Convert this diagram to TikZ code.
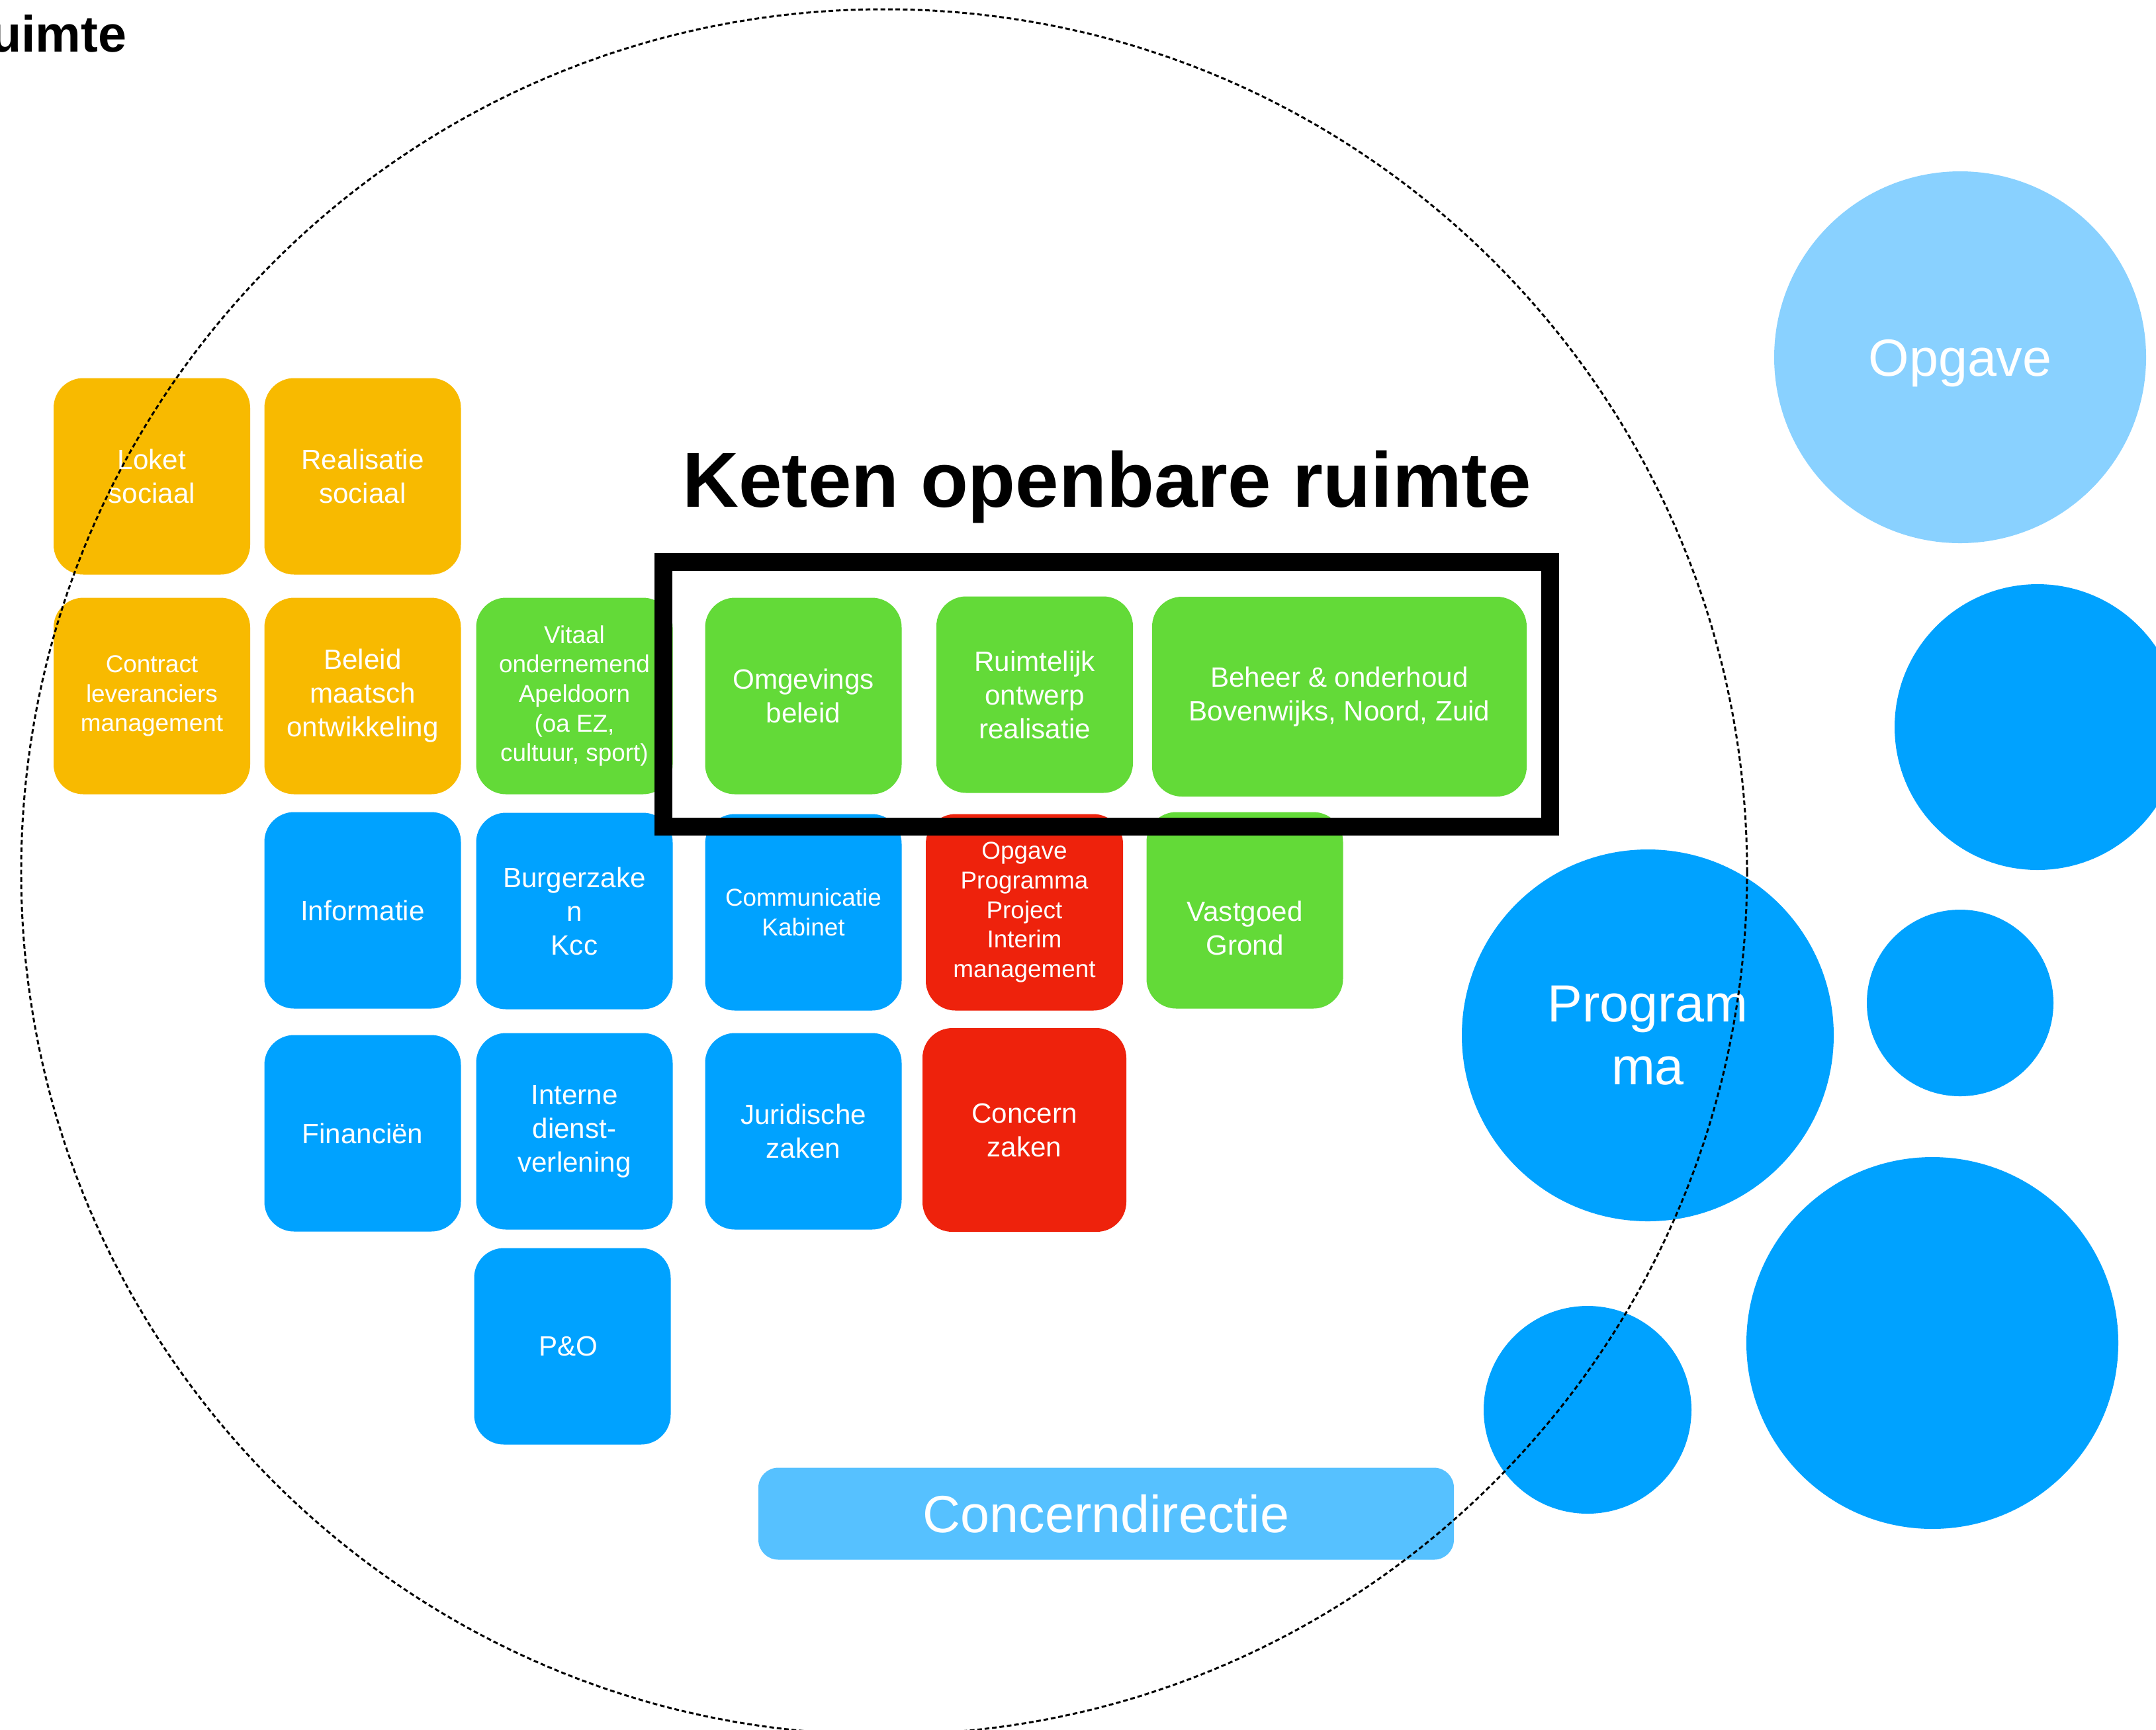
\documentclass[tikz,border=0pt]{standalone}
\usepackage{fontspec}
\setmainfont{Liberation Sans}
\usepackage{tikz}
\usetikzlibrary{positioning}
\definecolor{ApOrange}{RGB}{248,186,0}
\definecolor{ApGreen}{RGB}{99,218,56}
\definecolor{ApBlue}{RGB}{0,162,255}
\definecolor{ApRed}{RGB}{238,34,12}
\definecolor{ApSky}{RGB}{86,193,255}
\definecolor{ApLight}{RGB}{137,209,255}

\begin{document}
\begin{tikzpicture}[
          tile/.style={rectangle, rounded corners=0.45cm, minimum width=2.97cm,
                       minimum height=2.97cm, inner sep=1pt, text=white,
                       align=center, font=\fontsize{12}{14.5}\selectfont},
          fine/.style={font=\fontsize{10.5}{12.7}\selectfont},
          ball/.style={circle, fill=ApBlue, inner sep=0pt, text=white,
                       align=center, font=\fontsize{22.5}{27}\selectfont}
        ]
        \useasboundingbox (0,0) rectangle (32.58,-26.14);

        % Tiles
        \foreach \nm/\x/\y/\col/\lbl in {
          loket/2.295/-7.20/ApOrange/{Loket\\sociaal},
          realsoc/5.48/-7.20/ApOrange/{Realisatie\\sociaal},
          beleid/5.48/-10.52/ApOrange/{Beleid\\maatsch\\ontwikkeling},
          omgev/12.14/-10.52/ApGreen/{Omgevings\\beleid},
          ruimt/15.635/-10.50/ApGreen/{Ruimtelijk\\ontwerp\\realisatie},
          info/5.48/-13.76/ApBlue/{Informatie},
          burger/8.68/-13.77/ApBlue/{Burgerzake\\n\\Kcc},
          financ/5.48/-17.13/ApBlue/{Financiën},
          intern/8.68/-17.10/ApBlue/{Interne\\dienst-\\verlening},
          jurid/12.14/-17.10/ApBlue/{Juridische\\zaken},
          peno/8.65/-20.35/ApBlue/{P\&O}
        } {
          \node[tile, fill=\col] (\nm) at (\x, \y) {\lbl};
        }

        \node[tile, fine, fill=ApOrange] (contract) at (2.295, -10.52)
              {Contract\\leveranciers\\management};
        \node[tile, fine, fill=ApGreen] (vitaal) at (8.68, -10.52)
              {Vitaal\\ondernemend\\Apeldoorn\\(oa EZ,\\cultuur, sport)};
        \node[tile, fill=ApGreen, minimum width=5.66cm, minimum height=3.02cm]
              (beheer) at (20.24, -10.53) {Beheer \& onderhoud\\Bovenwijks, Noord, Zuid};
        \node[tile, fill=ApGreen] (vastgoed) at (18.81, -13.76)
              {\rule{0pt}{24pt}Vastgoed\\Grond};
        \node[tile, fine, fill=ApBlue] (commu) at (12.14, -13.79)
              {Communicatie\\Kabinet};
        \node[tile, fine, fill=ApRed, minimum width=2.98cm] (opgprog) at (15.48, -13.79)
              {Opgave\\Programma\\Project\\Interim\\management};
        \node[tile, fill=ApRed, minimum width=3.08cm, minimum height=3.08cm]
              (concern) at (15.48, -17.08) {Concern\\zaken};

        % Concerndirectie
        \node[tile, fill=ApSky, rounded corners=0.3cm, minimum width=10.51cm,
              minimum height=1.39cm, font=\fontsize{22.5}{27}\selectfont]
              (cdir) at (16.715, -22.88) {Concerndirectie};

        % Circles
        \node[ball, fill=ApLight, minimum size=5.62cm, text height=21pt,
              text depth=4.7pt] (opgave) at (29.62, -5.40) {Opgave};
        \node[ball, minimum size=4.32cm] (ballne) at (30.79, -10.99) {};
        \node[ball, minimum size=5.62cm] (programma) at (24.90, -15.65) {Program\\ma};
        \node[ball, minimum size=2.82cm] (balle) at (29.62, -15.16) {};
        \node[ball, minimum size=5.62cm] (ballse) at (29.20, -20.30) {};
        \node[ball, minimum size=3.14cm] (balls) at (23.99, -21.31) {};

        % Domain and chain
        \node[circle, draw, inner sep=0pt, minimum size=26.08cm, line width=0.85pt,
              dash pattern=on 2pt off 1.2pt] (domein) at (13.36, -13.18) {};
        \node[draw, line width=0.27cm, inner sep=0pt, minimum width=13.40cm,
              minimum height=4.00cm] (keten) at (16.725, -10.495) {};

        % Titles
        \node[anchor=base, font=\bfseries\fontsize{33.5}{40}\selectfont]
              (titel) at (16.725, -7.66) {Keten openbare ruimte};
        \node[anchor=base east, inner sep=0pt, font=\bfseries\fontsize{22}{26}\selectfont]
              (kop) at (1.92, -0.78) {uimte};
      \end{tikzpicture}
\end{document}
